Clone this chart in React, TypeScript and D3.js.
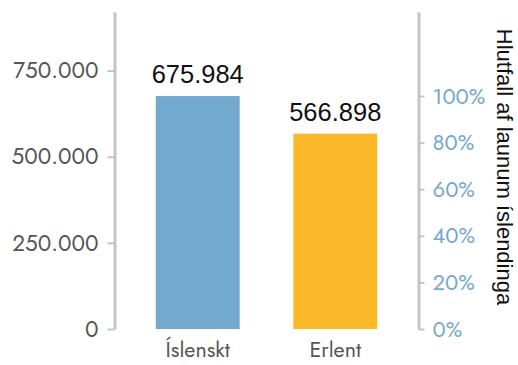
import React, { useEffect, useRef } from "react";
import * as d3 from "d3";

const categories = ["Íslenskt", "Erlent"];
const values = [675984, 566898];
const barColors = ["#74a9cf", "#fbb829"];
const leftTicks = [0, 250000, 500000, 750000];
const rightTicks = [0, 0.2, 0.4, 0.6, 0.8, 1];
const yMax = 920000;
const rightTitle = "Hlutfall af launum íslendinga";

const W = 518;
const H = 365;

const App = () => {
    const ref = useRef<SVGSVGElement>(null);

    useEffect(() => {
        if (!ref.current) return;
        d3.select(ref.current).selectAll("*").remove();
        const svg = d3.select(ref.current);

        const left = 114.5;
        const right = 418.5;
        const top = 12;
        const bottom = 329;

        const locale = d3.formatLocale({
            decimal: ",",
            thousands: ".",
            grouping: [3],
            currency: ["", " kr"],
        });
        const fmt = locale.format(",d");

        const x = d3
            .scaleBand()
            .domain(categories)
            .range([left, right])
            .paddingInner(0.39)
            .paddingOuter(0.3);

        const y = d3.scaleLinear().domain([0, yMax]).range([bottom, top]);
        const yPct = d3
            .scaleLinear()
            .domain([0, yMax / values[0]])
            .range([bottom, top]);

        // bars
        svg.selectAll(".bar")
            .data(values)
            .enter()
            .append("rect")
            .attr("x", (_, i) => x(categories[i])!)
            .attr("y", (d) => y(d))
            .attr("width", x.bandwidth())
            .attr("height", (d) => bottom - y(d))
            .attr("fill", (_, i) => barColors[i]);

        // value labels
        svg.selectAll(".label")
            .data(values)
            .enter()
            .append("text")
            .attr("x", (_, i) => x(categories[i])! + x.bandwidth() / 2)
            .attr("y", (d) => y(d) - 13)
            .attr("text-anchor", "middle")
            .attr("font-family", "Liberation Sans, Arial, sans-serif")
            .attr("font-size", 25.5)
            .attr("fill", "#111")
            .text((d) => fmt(d));

        // left axis
        const gl = svg
            .append("g")
            .attr("transform", `translate(${left},0)`)
            .call(
                d3
                    .axisLeft(y)
                    .tickValues(leftTicks)
                    .tickFormat((d) => fmt(d as number))
                    .tickSize(7)
                    .tickSizeOuter(0)
                    .tickPadding(9)
            );
        gl.select(".domain").attr("stroke", "#c4c4c4").attr("stroke-width", 3);
        gl.selectAll(".tick line").attr("stroke", "#c4c4c4").attr("stroke-width", 2);
        gl.selectAll(".tick text")
            .attr("fill", "#555")
            .attr("font-size", 22.5)
            .attr("font-family", "Jost, Lato, sans-serif");

        // right axis
        const gr = svg
            .append("g")
            .attr("transform", `translate(${right},0)`)
            .call(
                d3
                    .axisRight(yPct)
                    .tickValues(rightTicks)
                    .tickFormat((d) => `${Math.round((d as number) * 100)}%`)
                    .tickSize(6)
                    .tickSizeOuter(0)
                    .tickPadding(8)
            );
        gr.select(".domain").attr("stroke", "#c4c4c4").attr("stroke-width", 3);
        gr.selectAll(".tick line").attr("stroke", "#c4c4c4").attr("stroke-width", 2);
        gr.selectAll(".tick text")
            .attr("fill", "#74a9cf")
            .attr("font-size", 22)
            .attr("font-family", "Jost, Lato, sans-serif");

        // category labels
        svg.selectAll(".cat")
            .data(categories)
            .enter()
            .append("text")
            .attr("x", (d) => x(d)! + x.bandwidth() / 2)
            .attr("y", 357)
            .attr("text-anchor", "middle")
            .attr("fill", "#555")
            .attr("font-size", 21.5)
            .attr("font-family", "Jost, Lato, sans-serif")
            .text((d) => d);

        // right axis title
        svg.append("text")
            .attr("transform", `translate(497,167) rotate(90)`)
            .attr("text-anchor", "middle")
            .attr("font-family", "Liberation Sans, Arial, sans-serif")
            .attr("font-size", 22)
            .attr("fill", "#111")
            .text(rightTitle);
    }, []);

    return (
        <svg
            ref={ref}
            width={W}
            height={H}
            style={{ position: "absolute", left: 0, top: 0, background: "#fff" }}
        />
    );
};

export default App;
